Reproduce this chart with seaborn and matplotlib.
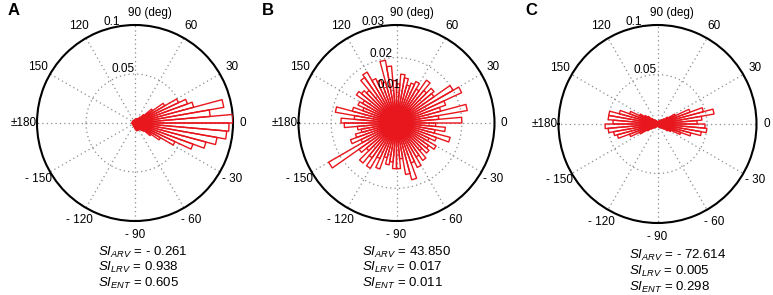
import numpy as np
import pandas as pd
import matplotlib
matplotlib.use("Agg")
import matplotlib.pyplot as plt
import matplotlib.transforms as mtransforms
import seaborn as sns

# 5-degree bins from -180 to 180 (72 bins), values are bin fractions
BIN_WIDTH = 5
bin_left_deg = np.arange(-180, 180, BIN_WIDTH)

rose_a = [
    0.003, 0.002, 0.003, 0.002, 0.002, 0.003,
    0.002, 0.002, 0.003, 0.002, 0.002, 0.003,
    0.003, 0.003, 0.004, 0.003, 0.004, 0.005,
    0.006, 0.007, 0.008, 0.008, 0.008, 0.008,
    0.007, 0.008, 0.010, 0.012, 0.020, 0.030,
    0.045, 0.063, 0.075, 0.085, 0.094, 0.096,
    0.100, 0.077, 0.092, 0.062, 0.057, 0.049,
    0.035, 0.022, 0.012, 0.008, 0.006, 0.005,
    0.005, 0.004, 0.004, 0.003, 0.004, 0.003,
    0.003, 0.002, 0.003, 0.002, 0.003, 0.002,
    0.002, 0.003, 0.002, 0.002, 0.003, 0.002,
    0.003, 0.002, 0.002, 0.003, 0.002, 0.003,
]

rose_b = [
    0.016, 0.012, 0.011, 0.013, 0.015, 0.012,
    0.024, 0.014, 0.012, 0.016, 0.013, 0.016,
    0.012, 0.015, 0.011, 0.013, 0.012, 0.014,
    0.014, 0.011, 0.016, 0.018, 0.013, 0.015,
    0.012, 0.014, 0.011, 0.013, 0.012, 0.014,
    0.011, 0.013, 0.017, 0.012, 0.015, 0.012,
    0.020, 0.013, 0.022, 0.014, 0.016, 0.022,
    0.020, 0.014, 0.015, 0.013, 0.016, 0.012,
    0.014, 0.013, 0.012, 0.014, 0.015, 0.012,
    0.013, 0.0175, 0.0195, 0.013, 0.014, 0.015,
    0.018, 0.017, 0.013, 0.014, 0.015, 0.012,
    0.013, 0.011, 0.014, 0.019, 0.013, 0.017,
]

rose_c = [
    0.053, 0.050, 0.045, 0.042, 0.030, 0.020,
    0.012, 0.008, 0.006, 0.005, 0.004, 0.004,
    0.003, 0.003, 0.003, 0.002, 0.002, 0.002,
    0.002, 0.002, 0.002, 0.003, 0.003, 0.003,
    0.004, 0.004, 0.005, 0.006, 0.008, 0.012,
    0.015, 0.025, 0.035, 0.045, 0.050, 0.048,
    0.040, 0.045, 0.058, 0.048, 0.035, 0.020,
    0.012, 0.008, 0.006, 0.005, 0.004, 0.004,
    0.003, 0.003, 0.002, 0.002, 0.002, 0.002,
    0.002, 0.002, 0.003, 0.003, 0.003, 0.004,
    0.004, 0.005, 0.006, 0.008, 0.012, 0.015,
    0.020, 0.030, 0.040, 0.050, 0.050, 0.045,
]

panel_letters = ["A", "B", "C"]
r_max = [0.1, 0.03, 0.1]
ring_ticks = [[0.05], [0.01, 0.02], [0.05]]
ring_labels = [["0.05", "0.1"], ["0.01", "0.02", "0.03"], ["0.05", "0.1"]]

theta_deg = [0, 30, 60, 90, 120, 150, 180, -150, -120, -90, -60, -30]
theta_labels = ["0", "30", "60", "90 (deg)", "120", "150", "\u00b1180",
                "- 150", "- 120", "- 90", "- 60", "- 30"]

si_arv = ["- 0.261", "43.850", "- 72.614"]
si_lrv = ["0.938", "0.017", "0.005"]
si_ent = ["0.605", "0.011", "0.298"]

RED = "#e8161d"
GRID = "#8c8c8c"


def rose_frame(values):
    # MATLAB-style rose: each bin is centre -> edge1 -> edge2 -> centre
    rows = []
    for i, (left, v) in enumerate(zip(bin_left_deg, values)):
        t1 = np.deg2rad(left)
        t2 = np.deg2rad(left + BIN_WIDTH)
        for t, r in [(t1, 0.0), (t1, v), (t2, v), (t2, 0.0)]:
            rows.append({"bin": i, "theta": t, "r": r})
    return pd.DataFrame(rows)


def main():
    sns.set_style("white")
    plt.rcParams["font.family"] = ["Liberation Sans", "DejaVu Sans"]
    plt.rcParams["text.color"] = "black"
    plt.rcParams["mathtext.fontset"] = "custom"
    plt.rcParams["mathtext.it"] = "Liberation Sans:italic"
    plt.rcParams["mathtext.rm"] = "Liberation Sans"

    fig = plt.figure(figsize=(7.73, 2.95), dpi=100)
    W, H = 773, 295

    centers = [(135, 123, 98), (396.5, 123, 98), (657.5, 124, 99)]
    letter_x = [8, 262, 525]
    text_x = [98, 362, 629]
    text_base = [[256, 271, 287], [256, 271, 287], [259, 275, 291]]

    roses = [rose_a, rose_b, rose_c]
    for k in range(3):
        cx, cy, R = centers[k]
        ax = fig.add_axes([(cx - R) / W, (H - cy - R) / H, 2 * R / W, 2 * R / H],
                          projection="polar")
        df = rose_frame(roses[k])
        sns.lineplot(data=df, x="theta", y="r", units="bin", estimator=None,
                     sort=False, color=RED, linewidth=1.0, ax=ax, legend=False,
                     zorder=3)
        ax.set_xlabel("")
        ax.set_ylabel("")
        ax.set_xlim(-np.pi, np.pi)
        rm = r_max[k]
        ax.set_ylim(0, rm)
        ax.set_xticks(np.deg2rad(theta_deg))
        ax.set_xticklabels([])
        ax.set_yticks(ring_ticks[k])
        ax.set_yticklabels([])
        ax.grid(True, color=GRID, linestyle=(0, (1, 2.5)), linewidth=0.9)
        ax.spines["polar"].set_linewidth(1.5)
        ax.spines["polar"].set_color("black")

        for t, lab in zip(theta_deg, theta_labels):
            th = np.deg2rad(t)
            if t == 90:
                shift = mtransforms.ScaledTranslation(-7 / fig.dpi, 0, fig.dpi_scale_trans)
                ax.text(th, rm * 1.12, lab, ha="left", va="center", fontsize=8.5,
                        transform=ax.transData + shift, clip_on=False)
            else:
                fac = 1.10 if t == 0 else 1.14
                ax.text(th, rm * fac, lab, ha="center", va="center", fontsize=8.5,
                        clip_on=False)

        for rv, lab in zip(ring_ticks[k] + [rm], ring_labels[k]):
            ax.text(np.deg2rad(104), rv, lab, ha="center", va="bottom",
                    fontsize=8.5, clip_on=False, zorder=5)

        fig.text(letter_x[k] / W, 1 - 3 / H, panel_letters[k], fontsize=12,
                 fontweight="bold", ha="left", va="top")

        lines = [(r"$\mathit{SI}_{\mathit{ARV}}$", si_arv[k]),
                 (r"$\mathit{SI}_{\mathit{LRV}}$", si_lrv[k]),
                 (r"$\mathit{SI}_{\mathit{ENT}}$", si_ent[k])]
        for (lab, val), yb in zip(lines, text_base[k]):
            fig.text(text_x[k] / W, 1 - yb / H, lab + " = " + val, fontsize=9.5,
                     ha="left", va="baseline")

    fig.savefig("out.png", dpi=100)
    plt.close(fig)


if __name__ == "__main__":
    main()
